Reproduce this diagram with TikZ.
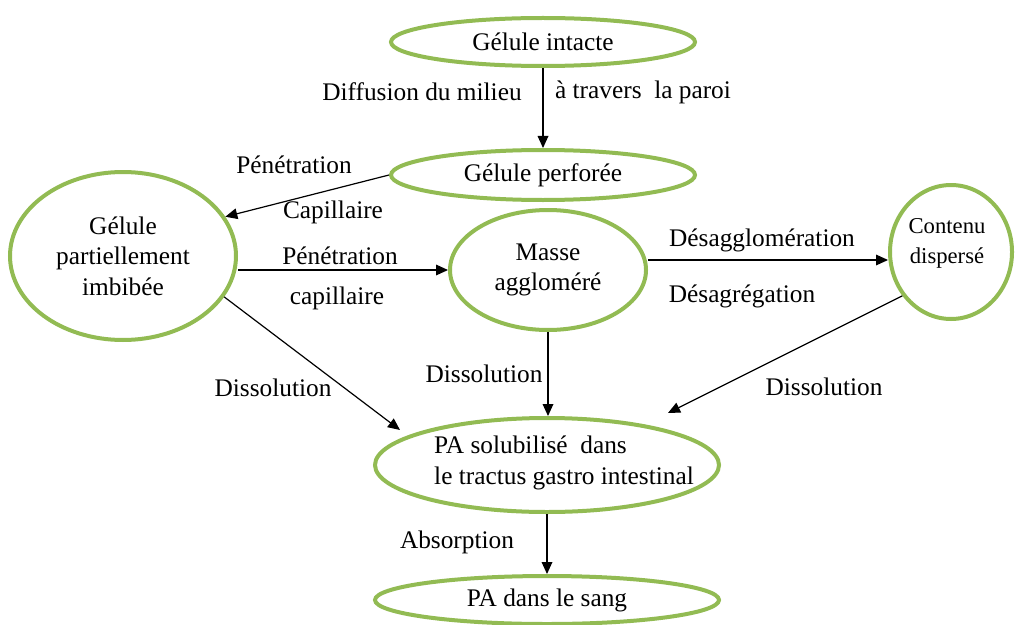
\documentclass[tikz,border=0pt]{standalone}
\usepackage{fontspec}
\setmainfont{Liberation Serif}
\usetikzlibrary{arrows.meta,shapes.geometric,calc}
\definecolor{leaf}{RGB}{146,187,83}
\tikzset{
  state/.style={draw=leaf, line width=3pt, ellipse, inner sep=0pt, align=center,
                font=\fontsize{19}{23}\selectfont},
  flow/.style={draw=black, line width=0.9pt, -{Triangle[length=9pt,width=8pt]}},
  lbl/.style={font=\fontsize{19}{23}\selectfont, inner sep=0pt, anchor=center},
  txt/.style={font=\fontsize{19}{23}\selectfont, align=left, inner sep=0pt}
}
\begin{document}
\begin{tikzpicture}[x=0.75pt,y=-0.75pt]
\useasboundingbox (0,0) rectangle (1019,624);
% states of the capsule
\node[state, minimum width=228pt, minimum height=36pt] (intacte) at (543,42) {Gélule intacte};
\node[state, minimum width=228pt, minimum height=37.5pt] (perforee) at (543,175) {Gélule perforée};
\node[state, minimum width=169.5pt, minimum height=126pt] (imbibee) at (123,256) {Gélule\\partiellement\\imbibée};
\node[state, minimum width=147pt, minimum height=90pt] (masse) at (548,270) {Masse\\aggloméré};
\node[state, minimum width=91.5pt, minimum height=100.5pt] (contenu) at (951,252) {};
\node[txt, align=center, font=\fontsize{17}{22.5}\selectfont] (contenutext) at ($(contenu)+(-4,-9)$) {Contenu\\dispersé};
\node[state, minimum width=258pt, minimum height=70.5pt] (solub) at (547,465) {};
\node[txt] (solubtext) at ($(solub)+(17,-2)$) {PA solubilisé\ \ dans\\le tractus gastro intestinal};
\node[state, minimum width=258pt, minimum height=36pt] (sang) at (547,600) {PA dans le sang};
% arrow tips that stop short of the solubilised state
\coordinate (intoL) at (400,430);
\coordinate (intoR) at (668,413);
% transitions
\draw[flow] (intacte.south) -- (perforee.north);
\draw[flow] (perforee.west) -- (imbibee.21);
\draw[flow] (imbibee.east |- masse.west) -- (masse.west);
\draw[flow] ([yshift=7.5pt]masse.east) -- ([yshift=-6pt]contenu.west);
\draw[flow] (imbibee.-22) -- (intoL);
\draw[flow] (masse.south) -- (masse.south |- solub.north);
\draw[flow] (contenu.-138) -- (intoR);
\draw[flow] (solub.south) -- (sang.north);
% transition labels
\node[lbl] (l1) at (422,92) {Diffusion du milieu};
\node[lbl] (l2) at (643,92) {à travers\ \ la paroi};
\node[lbl] (l3) at (294,165) {Pénétration};
\node[lbl] (l4) at (333,212) {Capillaire};
\node[lbl] (l5) at (340,256) {Pénétration};
\node[lbl] (l6) at (337,298) {capillaire};
\node[lbl] (l7) at (762,240) {Désagglomération};
\node[lbl] (l8) at (742,296) {Désagrégation};
\node[lbl] (l9) at (273,388) {Dissolution};
\node[lbl] (l10) at (484,374) {Dissolution};
\node[lbl] (l11) at (824,387) {Dissolution};
\node[lbl] (l12) at (457,542) {Absorption};
\end{tikzpicture}
\end{document}
